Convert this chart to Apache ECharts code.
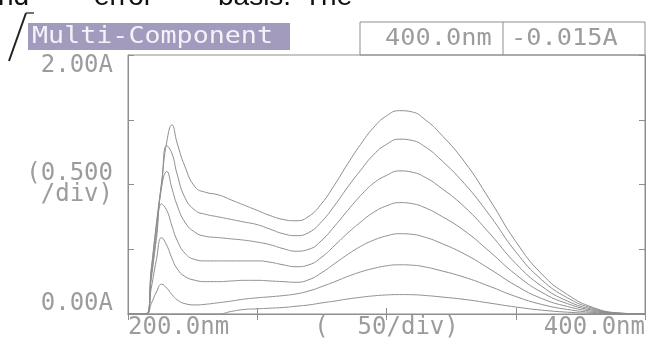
<!DOCTYPE html>
<html>
<head>
<meta charset="utf-8">
<script src="https://cdn.jsdelivr.net/npm/echarts@6/dist/echarts.min.js"></script>
<style>
  html, body, #main { width: 655px; height: 340px; margin: 0; background: #fff; }
</style>
</head>
<body>
<div id="main"></div>
<script>
// wavelength (nm) sampled for every trace
const wavelength = [200, 207, 209, 211, 213, 215, 217, 219, 222, 226, 230, 235, 240, 245, 250, 255, 260, 265, 270, 275,
  280, 285, 290, 295, 300, 305, 310, 315, 320, 330, 340, 350, 360, 370, 380, 390, 400]

// absorbance (A) of the seven standards, top to bottom
const trace1 = [0, 0, 0.35, 0.70, 1.02, 1.33, 1.46, 1.32, 1.14, 0.98, 0.94, 0.92, 0.88, 0.84, 0.80, 0.76, 0.73, 0.72, 0.755, 0.855,
  1.00, 1.16, 1.31, 1.44, 1.53, 1.57, 1.56, 1.50, 1.41, 1.18, 0.88, 0.56, 0.31, 0.15, 0.05, 0.008, 0]
const trace2 = [0, 0, 0.33, 0.68, 1.00, 1.30, 1.24, 1.08, 0.90, 0.80, 0.77, 0.75, 0.73, 0.71, 0.69, 0.655, 0.62, 0.605, 0.63, 0.715,
  0.84, 0.98, 1.11, 1.23, 1.31, 1.35, 1.34, 1.29, 1.21, 1.01, 0.76, 0.48, 0.265, 0.125, 0.043, 0.007, 0]
const trace3 = [0, 0, 0.30, 0.62, 0.98, 1.10, 0.97, 0.84, 0.71, 0.63, 0.60, 0.59, 0.58, 0.57, 0.555, 0.535, 0.505, 0.485, 0.50, 0.57,
  0.68, 0.80, 0.915, 1.01, 1.07, 1.105, 1.095, 1.055, 0.99, 0.83, 0.62, 0.39, 0.215, 0.10, 0.035, 0.005, 0]
const trace4 = [0, 0, 0.27, 0.58, 0.85, 0.80, 0.68, 0.57, 0.47, 0.42, 0.41, 0.41, 0.41, 0.41, 0.41, 0.40, 0.38, 0.365, 0.38, 0.44,
  0.53, 0.625, 0.71, 0.785, 0.835, 0.86, 0.852, 0.82, 0.77, 0.645, 0.48, 0.305, 0.168, 0.08, 0.028, 0.004, 0]
const trace5 = [0, 0, 0.20, 0.42, 0.59, 0.53, 0.43, 0.35, 0.29, 0.26, 0.25, 0.25, 0.255, 0.26, 0.26, 0.255, 0.25, 0.245, 0.265, 0.32,
  0.39, 0.46, 0.522, 0.57, 0.603, 0.62, 0.615, 0.592, 0.556, 0.465, 0.347, 0.22, 0.12, 0.058, 0.02, 0.003, 0]
const trace6 = [0, 0, 0.08, 0.17, 0.23, 0.20, 0.15, 0.11, 0.08, 0.07, 0.075, 0.087, 0.10, 0.115, 0.125, 0.133, 0.142, 0.155, 0.178, 0.212,
  0.25, 0.29, 0.325, 0.352, 0.372, 0.38, 0.377, 0.363, 0.34, 0.285, 0.213, 0.135, 0.074, 0.035, 0.012, 0.002, 0]
const trace7 = [0, 0, 0, 0, 0, 0, 0, 0, 0, 0, 0, 0, 0.02, 0.035, 0.04, 0.045, 0.05, 0.06, 0.07, 0.086,
  0.10, 0.116, 0.129, 0.14, 0.147, 0.15, 0.149, 0.143, 0.134, 0.113, 0.084, 0.054, 0.03, 0.014, 0.005, 0.001, 0]

const xTickLabels = ['200.0nm', '', '(  50/div)', '', '400.0nm']
const yTickLabels = ['0.00A', '', '(0.500\n/div)', '', '2.00A']
const readout = ['400.0nm', '-0.015A']
const plateTitle = 'Multi-Component'
const pageWords = ['nd', '"error"', 'basis.', 'The']

const GRAY = '#8e8e8e'
const TEXT = '#9c9c9c'
const MONO = '"DejaVu Sans Mono", "Liberation Mono", monospace'

const chart = echarts.init(document.getElementById('main'), null, { renderer: 'canvas' })

const traces = [trace1, trace2, trace3, trace4, trace5, trace6, trace7]
const series = traces.map((t, i) => ({
  type: 'line',
  name: 'std' + (i + 1),
  data: t.map((a, j) => [wavelength[j], a]),
  showSymbol: false,
  smooth: 0.5,
  lineStyle: { color: GRAY, width: 1 },
  silent: true,
  z: 3
}))

const tickStyle = { inside: true, length: 6, lineStyle: { color: GRAY } }

// page words above the printout, left edges in px
const wordX = [-2, 84, 218, 304]

chart.setOption({
  animation: false,
  backgroundColor: '#fff',
  grid: { left: 128, right: 10, top: 55, bottom: 25, show: true, borderColor: GRAY, borderWidth: 1 },
  xAxis: [{
    type: 'value', min: 200, max: 400, interval: 50, position: 'bottom',
    axisLine: { show: true, lineStyle: { color: GRAY } },
    axisTick: tickStyle,
    splitLine: { show: false },
    axisLabel: {
      formatter: v => xTickLabels[Math.round((v - 200) / 50)],
      color: TEXT, fontFamily: MONO, fontSize: 24, margin: 2,
      alignMinLabel: 'left', alignMaxLabel: 'right'
    }
  }, {
    type: 'value', min: 200, max: 400, interval: 50, position: 'top',
    axisLine: { show: true, lineStyle: { color: GRAY } },
    axisTick: tickStyle, axisLabel: { show: false }, splitLine: { show: false }
  }],
  yAxis: [{
    type: 'value', min: 0, max: 2, interval: 0.5, position: 'left',
    axisLine: { show: true, lineStyle: { color: GRAY } },
    axisTick: tickStyle,
    splitLine: { show: false },
    axisLabel: {
      formatter: v => yTickLabels[Math.round(v / 0.5)],
      color: TEXT, fontFamily: MONO, fontSize: 24, lineHeight: 21, margin: 15, align: 'right',
      verticalAlignMinLabel: 'bottom', verticalAlignMaxLabel: 'top'
    }
  }, {
    type: 'value', min: 0, max: 2, interval: 0.5, position: 'right',
    axisLine: { show: true, lineStyle: { color: GRAY } },
    axisTick: tickStyle, axisLabel: { show: false }, splitLine: { show: false }
  }],
  series: series,
  graphic: pageWords.map((w, i) => ({
    type: 'text', x: wordX[i], y: 11,
    style: { text: w, font: '28px "Liberation Sans", Arial', fill: '#111', verticalAlign: 'bottom' }
  })).concat([
    { type: 'line', shape: { x1: 9, y1: 61, x2: 26, y2: 13 }, style: { stroke: '#222', lineWidth: 2 } },
    { type: 'line', shape: { x1: 26, y1: 13, x2: 34, y2: 13 }, style: { stroke: '#444', lineWidth: 1.5 } },
    // title plate
    { type: 'rect', shape: { x: 28, y: 23, width: 262, height: 27 }, style: { fill: '#a39bbd' } },
    { type: 'text', x: 32, y: 37, scaleX: 1.16, style: { text: plateTitle, font: '23px ' + MONO, fill: '#f4f2f8', verticalAlign: 'middle' } },
    // cursor readout box
    { type: 'rect', shape: { x: 360, y: 22, width: 285, height: 33 }, style: { fill: 'none', stroke: GRAY, lineWidth: 1 } },
    { type: 'line', shape: { x1: 503, y1: 22, x2: 503, y2: 55 }, style: { stroke: GRAY, lineWidth: 1 } },
    { type: 'text', x: 385, y: 39, scaleX: 1.1, style: { text: readout[0], font: '23px ' + MONO, fill: TEXT, verticalAlign: 'middle' } },
    { type: 'text', x: 511, y: 39, scaleX: 1.1, style: { text: readout[1], font: '23px ' + MONO, fill: TEXT, verticalAlign: 'middle' } }
  ])
})
</script>
</body>
</html>
